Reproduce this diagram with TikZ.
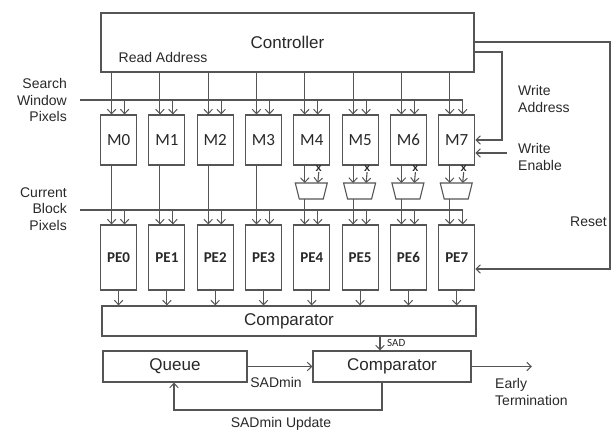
\documentclass[tikz,border=0pt]{standalone}
\usepackage{fontspec}
\setmainfont{Liberation Sans}
\newfontfamily\calib{Carlito}
\usetikzlibrary{arrows.meta,calc}
\definecolor{ln}{RGB}{85,85,85}
\definecolor{tx}{RGB}{40,40,40}
\begin{document}
\begin{tikzpicture}[x=1pt,y=-1pt,
  box/.style={draw=ln,line width=1.1pt,inner sep=0pt,text=tx},
  arr/.style={draw=ln,line width=1.1pt,-{Straight Barb[length=4.5pt,width=8.5pt,line width=1pt]}},
  wire/.style={draw=ln,line width=1.1pt},
  big/.style={font=\fontsize{17}{20}\selectfont,text=tx},
  lab/.style={font=\fontsize{14}{16.7}\selectfont,text=tx,inner sep=0pt},
  mlab/.style={font=\calib\fontsize{17}{18}\selectfont},
  pelab/.style={font=\calib\bfseries\fontsize{15}{18}\selectfont},
  xlab/.style={font=\bfseries\fontsize{11}{11}\selectfont,text=tx,inner sep=0pt},
]
\useasboundingbox (0,0) rectangle (616,433);

% Controller
\node[box,big,minimum width=373pt,minimum height=59pt] (ctrl) at (287.5,42.5) {Controller};
\node[lab] (ra) at (163,57) {Read Address};

% bus lines
\coordinate (sw) at (80,100);
\coordinate (swe) at (100.6+48.3*7+24,100);
\draw[wire] (sw) -- (swe);
\coordinate (cb) at (80,210);
\coordinate (cbe) at (100.6+48.3*7+24,210);
\draw[wire] (cb) -- (cbe);

% Comparator 1
\node[box,big,minimum width=374pt,minimum height=30pt] (cmp1) at (289,321) {Comparator};

\foreach \i in {0,...,7} {
  \pgfmathsetmacro\L{100.6+48.3*\i}
  \node[box,mlab,minimum width=36pt,minimum height=50pt] (m\i) at (\L+18,140) {M\i};
  \node[box,pelab,minimum width=36pt,minimum height=65pt] (pe\i) at (\L+18,257.5) {PE\i};
  \coordinate (a\i) at (\L+11,0);
  \coordinate (b\i) at (\L+24,0);
  \draw[arr] (a\i |- ctrl.south) -- (a\i |- m\i.north);
  \draw[arr] (b\i |- sw) -- (b\i |- m\i.north);
  \draw[arr] (b\i |- cb) -- (b\i |- pe\i.north);
  \draw[arr] (pe\i.south) -- (pe\i.south |- cmp1.north);
}
\foreach \i in {0,...,3} {
  \draw[arr] (a\i |- m\i.south) -- (a\i |- pe\i.north);
}
\foreach \i in {4,...,7} {
  \pgfmathsetmacro\L{100.6+48.3*\i}
  \coordinate (mux\i) at (\L+17.5,191);
  \draw[wire] ($(mux\i)+(-16,-8)$) -- ($(mux\i)+(16,-8)$) -- ($(mux\i)+(12,8)$) -- ($(mux\i)+(-12,8)$) -- cycle;
  \draw[arr] (a\i |- m\i.south) -- ($(a\i |- mux\i)+(0,-8)$);
  \node[xlab] (x\i) at (\L+25,169) {x};
  \draw[arr] (x\i.south) -- ($(b\i |- mux\i)+(0,-8)$);
  \draw[arr] ($(a\i |- mux\i)+(0,8)$) -- (a\i |- pe\i.north);
}

% side labels
\node[lab,align=right,anchor=east] (swl) at (67,100) {Search\\Window\\Pixels};
\node[lab,align=right,anchor=east] (cbl) at (67,209) {Current\\Block\\Pixels};
\node[lab,align=left,anchor=west] (wal) at (518,99) {Write\\Address};
\node[lab,align=left,anchor=west] (wel) at (518,157) {Write\\Enable};
\node[lab,anchor=east] (rsl) at (607,222) {Reset};

% write address / enable
\coordinate (wa) at (502,52);
\coordinate (wa2) at (502,140);
\draw[arr] (ctrl.east |- wa) -- (wa) -- (wa2) -- (wa2 -| m7.east);
\coordinate (we) at (507,153);
\draw[arr] (we) -- (we -| m7.east);

% reset
\coordinate (rs1) at (610,42);
\coordinate (rs2) at (610,269);
\draw[arr] (ctrl.east |- rs1) -- (rs1) -- (rs2) -- (rs2 -| pe7.east);

% bottom
\node[box,big,minimum width=158pt,minimum height=31pt] (cmp2) at (392,366.5) {Comparator};
\node[box,big,minimum width=144pt,minimum height=31pt] (queue) at (175,366.5) {Queue};
\coordinate (sadx) at (380,0);
\draw[arr] (sadx |- cmp1.south) -- (sadx |- cmp2.north);
\node[font=\calib\fontsize{11}{11}\selectfont,text=tx,anchor=west,inner sep=0pt] (sad) at (387,343) {SAD};
\draw[arr] (queue.east) -- (queue.east -| cmp2.west);
\node[lab] (sadmin) at (276,382) {SADmin};
\coordinate (up1) at (382,410);
\coordinate (up2) at (174,410);
\draw[arr] (up1 |- cmp2.south) -- (up1) -- (up2) -- (up2 |- queue.south);
\node[lab] (upd) at (281,424) {SADmin Update};
\coordinate (et) at (532,366.5);
\draw[arr] (cmp2.east) -- (et);
\node[lab,align=left,anchor=west] (etl) at (495,392) {Early\\Termination};
\end{tikzpicture}
\end{document}
